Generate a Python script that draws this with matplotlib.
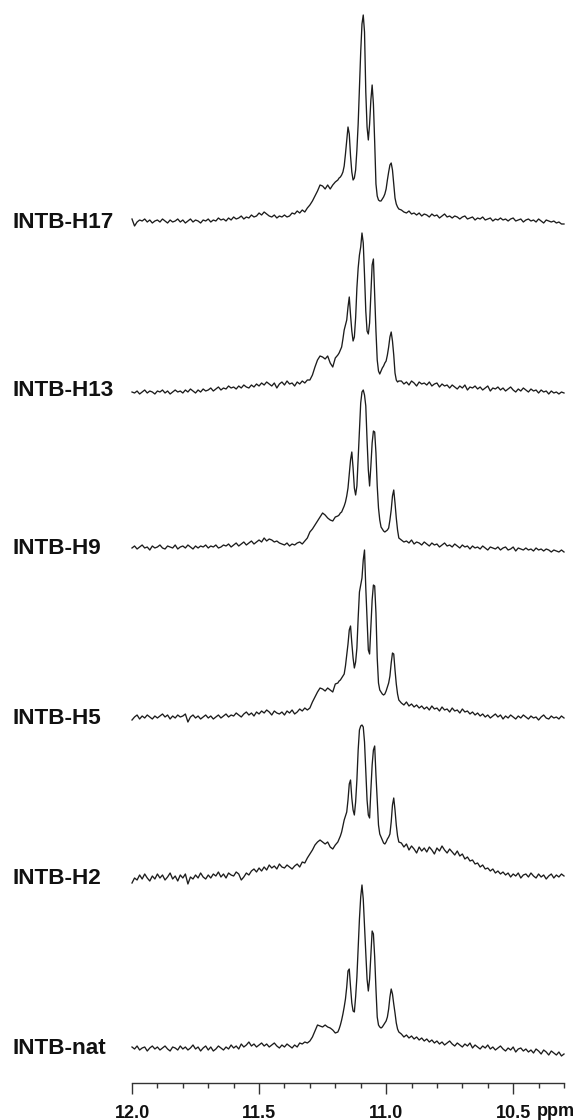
import numpy as np
import matplotlib
matplotlib.use("Agg")
import matplotlib.pyplot as plt
from matplotlib.ticker import FixedLocator, FixedFormatter

plt.rcParams['font.family'] = ['Liberation Sans', 'DejaVu Sans']

# ---------------- data ----------------
# chemical-shift sampling grids (ppm)
ppm_a = np.linspace(12.00, 11.20, 81)
ppm_b = np.linspace(11.19, 10.95, 49)
ppm_c = np.linspace(10.94, 10.30, 65)

samples = ["INTB-H17", "INTB-H13", "INTB-H9", "INTB-H5", "INTB-H2", "INTB-nat"]

h17_a = [3, -4, 0, 2, 1, 3, 0, 2, -1, 1,
         2, 0, 3, 1, -1, 2, 0, 1, 3, 0,
         2, -1, 1, 3, 0, 2, 1, -1, 2, 1,
         3, 0, 2, 1, 4, 2, 3, 1, 4, 2,
         5, 3, 4, 6, 3, 5, 4, 7, 5, 6,
         9, 7, 10, 8, 6, 5, 7, 4, 6, 5,
         7, 5, 6, 9, 8, 11, 9, 12, 10, 14,
         17, 21, 26, 31, 37, 36, 33, 37, 33, 37, 40]
h17_b = [42, 44, 45, 47, 50, 56, 68, 82, 95, 88,
         66, 50, 42, 44, 52, 72, 98, 135, 170, 198,
         207, 190, 130, 95, 82, 98, 122, 137, 118, 80,
         38, 26, 22, 21, 21, 23, 25, 28, 33, 42,
         50, 57, 59, 52, 38, 24, 18, 15, 13]
h17_c = [12, 10, 9, 11, 8, 9, 7, 9, 6, 8,
         7, 5, 8, 6, 7, 4, 6, 8, 5, 6,
         4, 6, 5, 3, 5, 6, 3, 4, 5, 2,
         4, 3, 5, 2, 3, 4, 1, 3, 2, 4,
         2, 3, 1, 3, 4, 1, 2, 3, 0, 2,
         3, 1, 2, 0, 3, 1, -1, 2, 1, 0,
         1, -1, 0, -2, -2]

h13_a = [1, 0, 2, -1, 1, 3, 0, 2, 1, -1,
         2, 1, 3, 0, 2, -1, 1, 3, 1, 2,
         0, 3, 1, 4, 2, 0, 3, 1, 4, 2,
         3, 5, 2, 4, 6, 3, 5, 4, 7, 5,
         6, 4, 7, 5, 8, 6, 5, 8, 6, 9,
         7, 10, 8, 11, 9, 7, 10, 5, 9, 11,
         8, 12, 9, 10, 7, 11, 9, 12, 10, 13,
         13, 18, 26, 33, 37, 36, 34, 37, 30, 26, 35]
h13_b = [38, 40, 43, 46, 54, 63, 68, 73, 86, 96,
         78, 62, 52, 56, 75, 105, 125, 138, 146, 160,
         150, 118, 82, 62, 59, 70, 100, 128, 134, 98,
         62, 33, 22, 19, 22, 25, 27, 30, 32, 38,
         46, 56, 61, 52, 38, 20, 13, 11, 12]
h13_c = [12, 9, 11, 8, 12, 10, 7, 11, 9, 10,
         8, 11, 7, 9, 10, 6, 9, 7, 8, 5,
         8, 6, 4, 7, 5, 8, 3, 6, 5, 7,
         4, 6, 3, 5, 7, 2, 5, 4, 6, 3,
         5, 2, 4, 6, 3, 1, 4, 2, 5, 3,
         1, 4, 2, 3, 0, 3, 1, 2, -1, 2,
         0, 1, -1, 1, 0]

h9_a = [0, 2, -1, 1, 3, 0, 1, -2, 2, 0,
        1, 3, 0, -1, 2, 1, 0, 3, -1, 1,
        2, 0, 3, 1, -1, 2, 0, 2, 1, 3,
        0, 2, 1, 3, 0, 1, 3, 2, 4, 1,
        3, 5, 2, 4, 6, 3, 5, 7, 4, 6,
        8, 6, 10, 7, 9, 8, 6, 7, 5, 4,
        3, 5, 2, 4, 3, 5, 6, 4, 7, 10,
        16, 19, 23, 27, 31, 35, 33, 30, 28, 27, 31]
h9_b = [32, 33, 35, 36, 39, 42, 46, 52, 60, 74,
        88, 96, 80, 60, 53, 62, 90, 120, 145, 156,
        158, 153, 142, 108, 78, 62, 82, 105, 117, 116,
        95, 62, 40, 28, 21, 19, 17, 16, 17, 18,
        20, 28, 38, 52, 58, 45, 30, 18, 10]
h9_c = [8, 6, 7, 5, 8, 4, 6, 5, 3, 6,
        4, 2, 5, 3, 4, 1, 3, 5, 2, 3,
        1, 4, 2, 0, 3, 1, 2, -1, 2, 0,
        1, -1, 2, 0, -2, 1, 0, -1, 1, -2,
        0, 1, -2, -1, 1, -3, 0, -1, -2, 0,
        -2, -1, -3, 0, -2, -1, -3, -1, -2, -4,
        -2, -3, -4, -2, -4]

h5_a = [-2, 1, 3, -1, 2, 0, 3, 1, -1, 2,
        0, 2, 4, 1, 3, -1, 2, 0, 3, 1,
        2, 4, -4, 1, 3, 0, 2, -1, 1, 3,
        0, 2, -1, 1, 3, 0, 2, 4, 1, 3,
        2, 5, 3, 1, 4, 6, 3, 5, 2, 6,
        4, 7, 5, 8, 6, 3, 7, 5, 4, 6,
        3, 7, 5, 8, 4, 6, 9, 7, 10, 8,
        10, 16, 21, 26, 30, 29, 27, 30, 28, 26, 34]
h5_b = [35, 37, 38, 40, 42, 44, 52, 63, 74, 88,
        92, 75, 60, 50, 56, 70, 100, 126, 133, 140,
        158, 168, 130, 98, 68, 64, 92, 118, 133, 132,
        105, 60, 35, 28, 26, 24, 23, 24, 27, 31,
        35, 42, 55, 65, 64, 48, 34, 24, 18]
h5_c = [15, 13, 16, 12, 14, 11, 13, 10, 12, 9,
        11, 8, 12, 9, 10, 7, 11, 8, 9, 6,
        10, 7, 8, 5, 9, 6, 7, 4, 6, 3,
        5, 2, 4, 1, 3, 0, 2, 4, 1, 3,
        -1, 2, 0, 3, 1, -1, 2, 0, 3, 1,
        -1, 2, 0, 1, -2, 1, 3, 0, -1, 2,
        0, 1, -1, 2, 0]

h2_a = [-3, 2, 0, 5, 1, 6, 2, -1, 4, 1,
        6, 2, 5, 0, 3, 7, 1, 4, -1, 5,
        2, 6, -4, 3, 1, 5, 2, 7, 3, 1,
        5, 2, 6, 4, 8, 3, 6, 2, 7, 5,
        4, 8, 6, 0, 3, 7, 5, 9, 11, 8,
        12, 9, 13, 10, 15, 12, 14, 11, 16, 13,
        12, 15, 13, 11, 14, 16, 13, 18, 17, 22,
        26, 30, 35, 38, 40, 38, 36, 38, 33, 31, 35]
h2_b = [38, 41, 44, 48, 54, 60, 64, 68, 80, 96,
        100, 82, 70, 65, 78, 100, 130, 150, 154, 155,
        153, 138, 108, 80, 65, 62, 90, 115, 130, 134,
        105, 80, 55, 46, 43, 40, 37, 36, 38, 41,
        43, 46, 58, 75, 82, 70, 55, 44, 38]
h2_c = [37, 33, 36, 30, 34, 31, 27, 33, 29, 32,
        28, 33, 30, 26, 32, 29, 34, 30, 27, 31,
        28, 25, 29, 24, 26, 21, 23, 19, 20, 16,
        17, 13, 15, 11, 12, 9, 11, 7, 9, 6,
        8, 5, 7, 3, 6, 4, 7, 2, 5, 6,
        3, 7, 4, 2, 6, 3, 5, 1, 4, 6,
        2, 5, 3, 6, 4]

nat_a = [2, 0, 3, -1, 1, 2, -2, 1, 3, 0,
         2, -1, 1, 3, 0, -2, 2, 1, -1, 3,
         0, 2, -1, 1, 4, 0, 2, -2, 1, 3,
         -1, 2, -2, 0, 3, 1, -1, 2, 0, 4,
         1, 3, 0, 5, 2, 4, 7, 3, 5, 2,
         4, 6, 3, 5, 2, 4, 6, 3, 1, 4,
         2, 5, 3, 1, 4, 2, 6, 5, 7, 6,
         8, 12, 18, 24, 23, 22, 24, 22, 21, 19, 16]
nat_b = [17, 20, 24, 29, 35, 42, 50, 62, 78, 80,
         62, 46, 38, 37, 52, 72, 100, 130, 152, 164,
         150, 122, 96, 70, 58, 70, 95, 118, 115, 92,
         60, 32, 24, 22, 21, 22, 24, 26, 28, 32,
         40, 52, 60, 55, 45, 36, 26, 20, 17]
nat_c = [15, 12, 14, 11, 13, 10, 12, 9, 11, 8,
         10, 7, 9, 6, 8, 5, 7, 4, 6, 8,
         5, 3, 6, 4, 2, 5, 3, 6, 1, 4,
         2, 0, 3, 1, 4, 0, 2, -1, 1, 3,
         0, -2, 1, -1, 2, -3, 0, 1, -2, 0,
         -3, -1, -4, 0, -2, -5, -1, -3, -6, -2,
         -4, -6, -3, -7, -5]

major_ticks = [12.0, 11.5, 11.0, 10.5]
major_labels = ["12.0", "11.5", "11.0", "10.5"]
minor_ticks = [12.0, 11.9, 11.8, 11.7, 11.6, 11.5, 11.4, 11.3, 11.2, 11.1,
               11.0, 10.9, 10.8, 10.7, 10.6, 10.5, 10.4, 10.3]

# ---------------- layout ----------------
W, H = 583, 1120
px_per_ppm = (564 - 132) / 1.70
base_px = [222, 393, 548, 718, 880, 1049]   # baseline of each stacked trace (pixels from top)
label_px = [222, 390, 549, 718, 879, 1049]
axis_px = 1083

fig = plt.figure(figsize=(W / 100, H / 100), dpi=100)
ax = fig.add_axes([0, 0, 1, 1])
ax.set_xlim(12.0 + 132 / px_per_ppm, 12.0 - (W - 132) / px_per_ppm)
ax.set_ylim(0, H)

ppm = np.concatenate([ppm_a, ppm_b, ppm_c])
traces = [
    (h17_a, h17_b, h17_c),
    (h13_a, h13_b, h13_c),
    (h9_a, h9_b, h9_c),
    (h5_a, h5_b, h5_c),
    (h2_a, h2_b, h2_c),
    (nat_a, nat_b, nat_c),
]

for name, parts, bpx, lpx in zip(samples, traces, base_px, label_px):
    inten = np.concatenate([np.asarray(p, float) for p in parts])
    ax.plot(ppm, (H - bpx) + inten, color='#1c1c1c', lw=0.95, solid_joinstyle='round')
    ax.text(12.0 + (132 - 12) / px_per_ppm, H - lpx, name, ha='left', va='center',
            fontsize=16.2, fontweight='bold', color='#111111')

for s in ['left', 'right', 'top']:
    ax.spines[s].set_visible(False)
ax.spines['bottom'].set_position(('data', H - axis_px))
ax.spines['bottom'].set_bounds(12.0, 10.3)
ax.spines['bottom'].set_linewidth(1.0)
ax.spines['bottom'].set_color('#333333')
ax.set_yticks([])
ax.xaxis.set_major_locator(FixedLocator(major_ticks))
ax.xaxis.set_major_formatter(FixedFormatter(major_labels))
ax.xaxis.set_minor_locator(FixedLocator(minor_ticks))
ax.tick_params(axis='x', which='major', length=8, width=1.0, direction='out',
               pad=8, labelsize=13, colors='#333333', labelcolor='#111111')
ax.tick_params(axis='x', which='minor', length=3.6, width=1.0, direction='out',
               colors='#333333')
for lbl in ax.get_xticklabels():
    lbl.set_fontweight('bold')

ax.text(12.0 - (556 - 132) / px_per_ppm, H - 1111, "ppm", ha='center', va='center',
        fontsize=13, fontweight='bold', color='#111111')

fig.savefig("out.png", dpi=100, facecolor='white')
